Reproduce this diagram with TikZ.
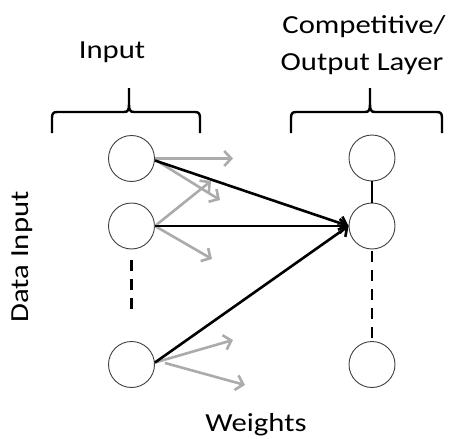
\documentclass[tikz,border=0pt]{standalone}
\usepackage{fontspec}
\setmainfont{Carlito}
\usetikzlibrary{arrows.meta}
\tikzset{
  neuron/.style={circle, draw=black!75, line width=0.9pt, fill=white, minimum size=46pt, inner sep=0pt},
  grayarrow/.style={draw=black!33, line width=2.6pt, -{Straight Barb[length=7pt,width=15pt,line width=2.6pt]}},
  blackarrow/.style={draw=black, line width=2.6pt, -{Straight Barb[length=7pt,width=14pt,line width=2.6pt]}},
  bracepath/.style={draw=black, line width=2.4pt},
  lbl/.style={font=\fontsize{26pt}{30pt}\selectfont, inner sep=0pt, align=center},
  dashline/.style={draw=black, line width=2.4pt, dash pattern=on 11pt off 8pt}
}
\newcommand{\wide}[1]{\scalebox{1.18}[1]{#1}}
\begin{document}
\begin{tikzpicture}[x=1pt,y=-1pt]
\useasboundingbox (0,0) rectangle (456,439);
% neurons
\node[neuron] (i1) at (131.5,158.5) {};
\node[neuron] (i2) at (131.5,226) {};
\node[neuron] (i3) at (131.5,364.5) {};
\node[neuron] (o1) at (372,158) {};
\node[neuron] (o2) at (372,226) {};
\node[neuron] (o3) at (372,364.5) {};
% vertical connectors
\draw[line width=2.4pt] (o1.south) -- (o2.north);
\draw[dashline] (131.5,260) -- (131.5,316);
\draw[dashline] (o2.south) ++(0,2) -- (372,341);
% gray arrow end points
\coordinate (g1) at (233,158.5);
\coordinate (g2) at (220,200);
\coordinate (g3) at (211,181);
\coordinate (g4) at (212,259);
\coordinate (g5) at (233,340);
\coordinate (g6s) at (165,363);
\coordinate (g6) at (245,385);
\draw[grayarrow] (i1.east) -- (g1);
\draw[grayarrow] ([shift={(3,3)}]i1.east) -- (g2);
\draw[grayarrow] (i2.east) -- (g3);
\draw[grayarrow] (i2.east) -- (g4);
\draw[grayarrow] ([shift={(0,-2)}]i3.east) -- (g5);
\draw[grayarrow] (g6s) -- (g6);
% black arrows
\draw[blackarrow] ([shift={(0,2)}]i1.east) -- (o2.west);
\draw[blackarrow] (i2.east) -- (o2.west);
\draw[blackarrow] ([shift={(0,-2)}]i3.east) -- (o2.west);
% braces
\draw[bracepath] (52,133) -- (52,118) .. controls (52,114) and (53,112) .. (57,112) -- (124,112)
  .. controls (128,112) and (129,110) .. (129,104) -- (129,88)
  (129,104) .. controls (129,110) and (130,112) .. (134,112) -- (195,112)
  .. controls (199,112) and (200,114) .. (200,118) -- (200,133);
\draw[bracepath] (291,133) -- (291,118) .. controls (291,114) and (292,112) .. (296,112) -- (365,112)
  .. controls (369,112) and (370,110) .. (370,104) -- (370,88)
  (370,104) .. controls (370,110) and (371,112) .. (375,112) -- (437,112)
  .. controls (441,112) and (442,114) .. (442,118) -- (442,133);
% labels
\node[lbl] (tin) at (112,52) {\wide{Input}};
\node[lbl] (tc) at (364,27) {\wide{Competitive/}};
\node[lbl] (to) at (362,64) {\wide{Output Layer}};
\node[lbl, rotate=90] (td) at (22,257) {\wide{Data Input}};
\node[lbl] (tw) at (256,425) {\wide{Weights}};
\end{tikzpicture}
\end{document}
